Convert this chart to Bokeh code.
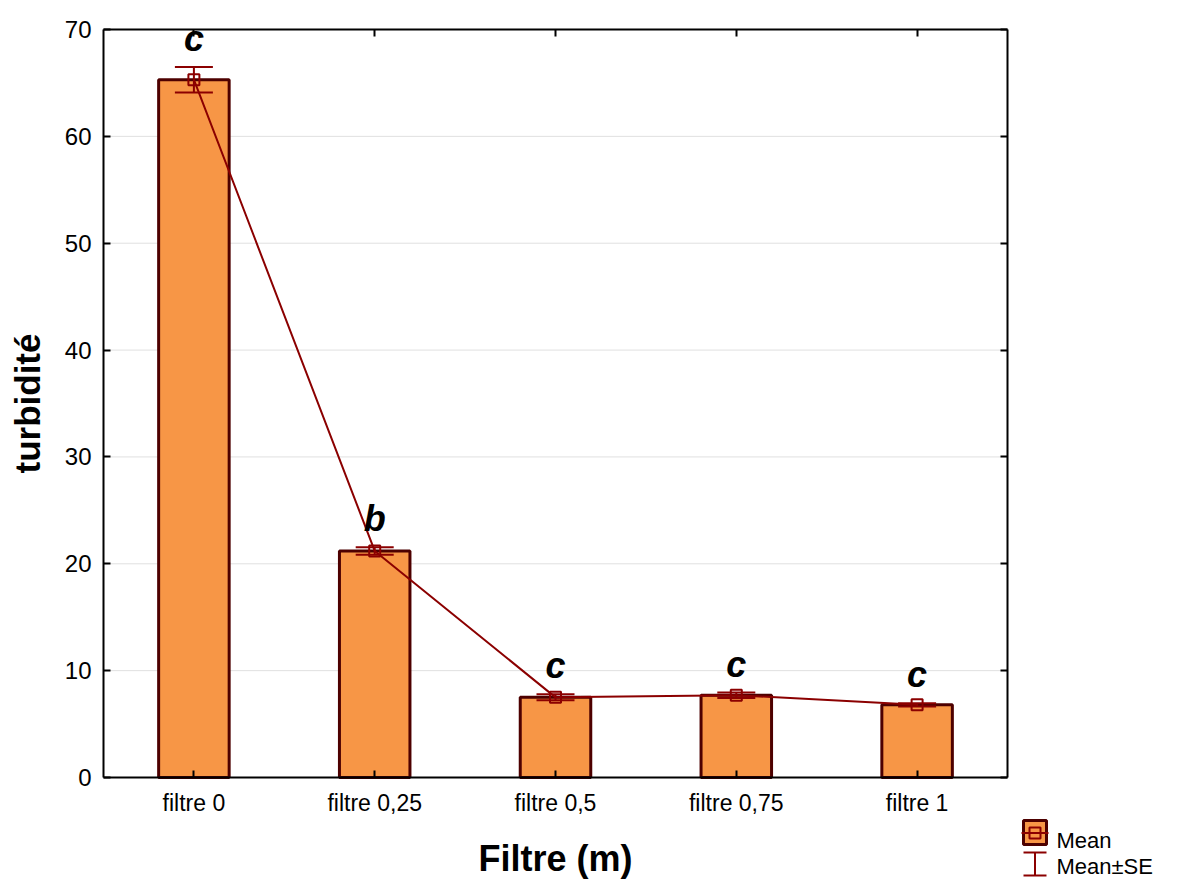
import math
from bokeh.plotting import figure
from bokeh.models import (ColumnDataSource, Range1d, LinearAxis, FixedTicker,
                          Whisker, TeeHead, Label, BoxAnnotation, Arrow, CustomJSTickFormatter)
from bokeh.core.properties import value
from bokeh.embed import file_html
from bokeh.resources import INLINE

# ---- data ----
categories = ["filtre 0", "filtre 0,25", "filtre 0,5", "filtre 0,75", "filtre 1"]
means = [65.3, 21.2, 7.5, 7.7, 6.8]
se = [1.2, 0.35, 0.28, 0.25, 0.16]
letters = ["c", "b", "c", "c", "c"]
y_ticks = [0, 10, 20, 30, 40, 50, 60, 70]
legend_labels = ["Mean", "Mean±SE"]
x_title = "Filtre (m)"
y_title = "turbidité"

FONT = "Liberation Sans"
BAR_FILL = "#F79646"
BAR_LINE = "#4D0000"
RED = "#8B0000"

n = len(categories)
xs = list(range(1, n + 1))

src = ColumnDataSource(dict(
    x=xs,
    mean=means,
    lo=[m - s for m, s in zip(means, se)],
    hi=[m + s for m, s in zip(means, se)],
    letter=letters,
))

# ---- layout geometry (pixels) ----
# the frame covers the whole canvas; the plotting box is drawn with fixed-location axes
W, H = 1178, 880
BOX_L, BOX_R, BOX_T, BOX_B = 103, 1007, 29, 777
YMAX = y_ticks[-1]
px_per_x = (BOX_R - BOX_L) / n
px_per_y = (BOX_B - BOX_T) / YMAX
XL, XR = 0.5, n + 0.5
x0 = XL - BOX_L / px_per_x
x1 = XL + (W - BOX_L) / px_per_x
y1 = YMAX + BOX_T / px_per_y
y0 = -(H - BOX_B) / px_per_y

def dx(px):
    return XL + (px - BOX_L) / px_per_x

def dy(py):
    return (BOX_B - py) / px_per_y

p = figure(width=W, height=H, x_range=Range1d(x0, x1), y_range=Range1d(y0, y1),
           output_backend="svg", toolbar_location=None,
           min_border_left=0, min_border_right=0, min_border_top=0, min_border_bottom=0)
p.background_fill_color = "white"
p.border_fill_color = "white"
p.outline_line_color = None
p.xgrid.visible = False
p.ygrid.visible = False

# horizontal grid lines inside the plotting box
gy = y_ticks[1:-1]
p.segment(x0=[XL] * len(gy), x1=[XR] * len(gy), y0=gy, y1=gy,
          line_color="#e0e0e0", line_width=1, level="underlay")

# bars
p.vbar(x="x", top="mean", width=0.39, source=src, fill_color=BAR_FILL,
       line_color=BAR_LINE, line_width=3)
# mean line
p.line(x="x", y="mean", source=src, line_color=RED, line_width=2)
# error bars
wh = Whisker(base="x", lower="lo", upper="hi", source=src, line_color=RED, line_width=2,
             upper_head=TeeHead(size=38, line_color=RED, line_width=2),
             lower_head=TeeHead(size=38, line_color=RED, line_width=2), level="glyph")
p.add_layout(wh)
# mean markers
p.scatter(x="x", y="mean", source=src, marker="square", size=11, fill_color=None,
          line_color=RED, line_width=2)
# significance letters
p.text(x="x", y="hi", text="letter", source=src, text_font=value(FONT),
       text_font_style="bold italic", text_font_size="36px", text_align="center",
       text_baseline="bottom", y_offset=-8, text_color="black")

# ---- axes ----
def style_axis(ax):
    ax.axis_line_color = "black"
    ax.axis_line_width = 2
    ax.major_tick_in = 7
    ax.major_tick_out = 0
    ax.major_tick_line_color = "black"
    ax.major_tick_line_width = 2
    ax.minor_tick_line_color = None
    ax.major_label_text_font = FONT
    ax.major_label_text_color = "black"

xa = p.xaxis[0]
style_axis(xa)
xa.fixed_location = 0
xa.bounds = (XL, XR)
xa.ticker = FixedTicker(ticks=xs)
xa.major_label_overrides = {x: c for x, c in zip(xs, categories)}
xa.major_label_text_font_size = "23px"
xa.major_label_standoff = 12

ya = p.yaxis[0]
style_axis(ya)
ya.fixed_location = XL
ya.bounds = (0, YMAX)
ya.ticker = FixedTicker(ticks=y_ticks)
ya.major_label_text_font_size = "24px"
ya.major_label_standoff = 12

blank = CustomJSTickFormatter(code="return ''")
ra = LinearAxis(ticker=FixedTicker(ticks=y_ticks), formatter=blank, fixed_location=XR,
                bounds=(0, YMAX))
style_axis(ra)
ra.major_label_text_font_size = "1px"
p.add_layout(ra, "right")

ta = LinearAxis(ticker=FixedTicker(ticks=xs), formatter=blank, fixed_location=YMAX,
                bounds=(XL, XR))
style_axis(ta)
ta.major_label_text_font_size = "1px"
ta.major_label_standoff = 0
p.add_layout(ta, "above")

# axis titles
p.add_layout(Label(x=(XL + XR) / 2, y=dy(858), text=x_title, text_font=FONT,
                   text_font_style="bold", text_font_size="36px", text_color="black",
                   text_align="center", text_baseline="middle"))
p.add_layout(Label(x=dx(27), y=YMAX / 2, text=y_title, text_font=FONT,
                   text_font_style="bold", text_font_size="35px", text_color="black",
                   text_align="center", text_baseline="middle", angle=math.pi / 2))

# ---- legend (bottom right, outside the plotting box) ----
p.add_layout(BoxAnnotation(left=dx(1023), right=dx(1046), top=dy(820), bottom=dy(844),
                           fill_color=BAR_FILL, fill_alpha=1, line_color=BAR_LINE,
                           line_width=3, line_alpha=1, level="overlay"))
p.add_layout(BoxAnnotation(left=dx(1029), right=dx(1040), top=dy(827), bottom=dy(838),
                           fill_color=None, fill_alpha=0, line_color=RED,
                           line_width=2, line_alpha=1, level="overlay"))
p.add_layout(Arrow(x_start=dx(1021), y_start=dy(832.5), x_end=dx(1048), y_end=dy(832.5),
                   start=None, end=None, line_color=RED, line_width=2, level="overlay"))
p.add_layout(Arrow(x_start=dx(1034.5), y_start=dy(852), x_end=dx(1034.5), y_end=dy(875),
                   start=TeeHead(size=23, line_color=RED, line_width=2),
                   end=TeeHead(size=23, line_color=RED, line_width=2),
                   line_color=RED, line_width=2, level="overlay"))
p.add_layout(Label(x=dx(1056), y=dy(840), text=legend_labels[0], text_font=FONT,
                   text_font_size="22px", text_color="black", text_baseline="alphabetic"))
p.add_layout(Label(x=dx(1056), y=dy(866), text=legend_labels[1], text_font=FONT,
                   text_font_size="22px", text_color="black", text_baseline="alphabetic"))

open("out.html", "w").write(file_html(p, INLINE))
